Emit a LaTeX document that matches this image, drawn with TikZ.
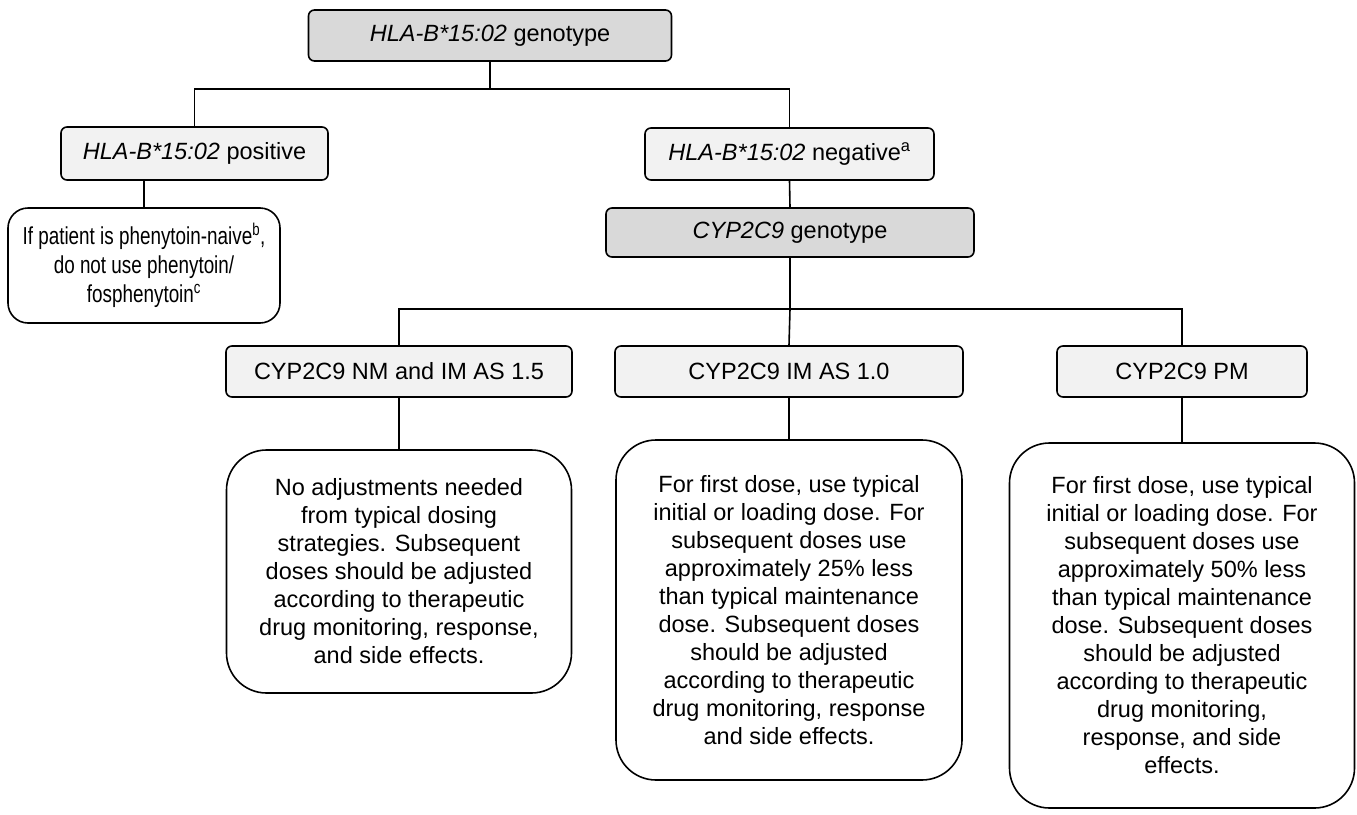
\documentclass[tikz,border=0pt]{standalone}
\usepackage{fontspec}
\setmainfont{Liberation Sans}
\newfontfamily\narrowsans[FakeStretch=0.77]{Liberation Sans}
\begin{document}
\begin{tikzpicture}[x=1pt,y=-1pt,
  every node/.style={font=\fontsize{23.5}{28}\selectfont, inner sep=0pt, align=center},
  box/.style={draw, line width=1.6pt, rounded corners=6pt, fill=boxlight},
  darkbox/.style={box, fill=boxdark},
  resbox/.style={draw, line width=1.6pt, rounded corners=40pt, fill=white},
  conn/.style={line width=1.6pt}]
\definecolor{boxlight}{HTML}{F2F2F2}
\definecolor{boxdark}{HTML}{D9D9D9}
\useasboundingbox (0,0) rectangle (1357,814);
% level 1
\node[darkbox, minimum width=363pt, minimum height=51pt] (top) at (490,35.5) {\textit{HLA-B*15:02} genotype};
% level 2
\node[box, minimum width=267pt, minimum height=53pt] (pos) at (194.5,153.5) {\textit{HLA-B*15:02} positive};
\node[box, minimum width=289pt, minimum height=52pt] (neg) at (789.5,154) {\textit{HLA-B*15:02} negative\textsuperscript{a}};
\node[draw, line width=1.6pt, rounded corners=20pt, fill=white, minimum width=272pt, minimum height=115pt,
  font=\narrowsans\fontsize{24.5}{29}\selectfont] (posres) at (144,265.5)
  {If patient is phenytoin-naive\textsuperscript{b},\\do not use phenytoin/\\fosphenytoin\textsuperscript{c}};
\node[darkbox, minimum width=368pt, minimum height=49pt] (cyp) at (790,232.5) {\textit{CYP2C9} genotype};
% level 3
\node[box, minimum width=346pt, minimum height=51pt] (nm) at (399,371.5) {CYP2C9 NM and IM AS 1.5};
\node[box, minimum width=348pt, minimum height=51pt] (im) at (789,371.5) {CYP2C9 IM AS 1.0};
\node[box, minimum width=250pt, minimum height=51pt] (pm) at (1182,371.5) {CYP2C9 PM};
% results
\node[resbox, minimum width=345pt, minimum height=243pt] (nmres) at (399,571.5)
  {No adjustments needed\\from typical dosing\\strategies. Subsequent\\doses should be adjusted\\according to therapeutic\\drug monitoring, response,\\and side effects.};
\node[resbox, minimum width=346pt, minimum height=340pt] (imres) at (789,610)
  {For first dose, use typical\\initial or loading dose. For\\subsequent doses use\\approximately 25\% less\\than typical maintenance\\dose. Subsequent doses\\should be adjusted\\according to therapeutic\\drug monitoring, response\\and side effects.};
\node[resbox, minimum width=345pt, minimum height=365pt] (pmres) at (1182,625.5)
  {For first dose, use typical\\initial or loading dose. For\\subsequent doses use\\approximately 50\% less\\than typical maintenance\\dose. Subsequent doses\\should be adjusted\\according to therapeutic\\drug monitoring,\\response, and side\\effects.};
% connectors
\coordinate (h1) at (490,89);
\coordinate (h2) at (790,309);
\draw[conn] (top.south) -- (h1);
\draw[conn] (pos.north) |- (h1) -| (neg.north);
\draw[conn] (posres.north) -- (posres.north |- pos.south);
\draw[conn] (neg.south) -- (cyp.north);
\draw[conn] (cyp.south) -- (h2);
\draw[conn] (nm.north) |- (h2) -| (pm.north);
\draw[conn] (h2) -- (im.north);
\draw[conn] (nm.south) -- (nmres.north);
\draw[conn] (im.south) -- (imres.north);
\draw[conn] (pm.south) -- (pmres.north);
\end{tikzpicture}
\end{document}
